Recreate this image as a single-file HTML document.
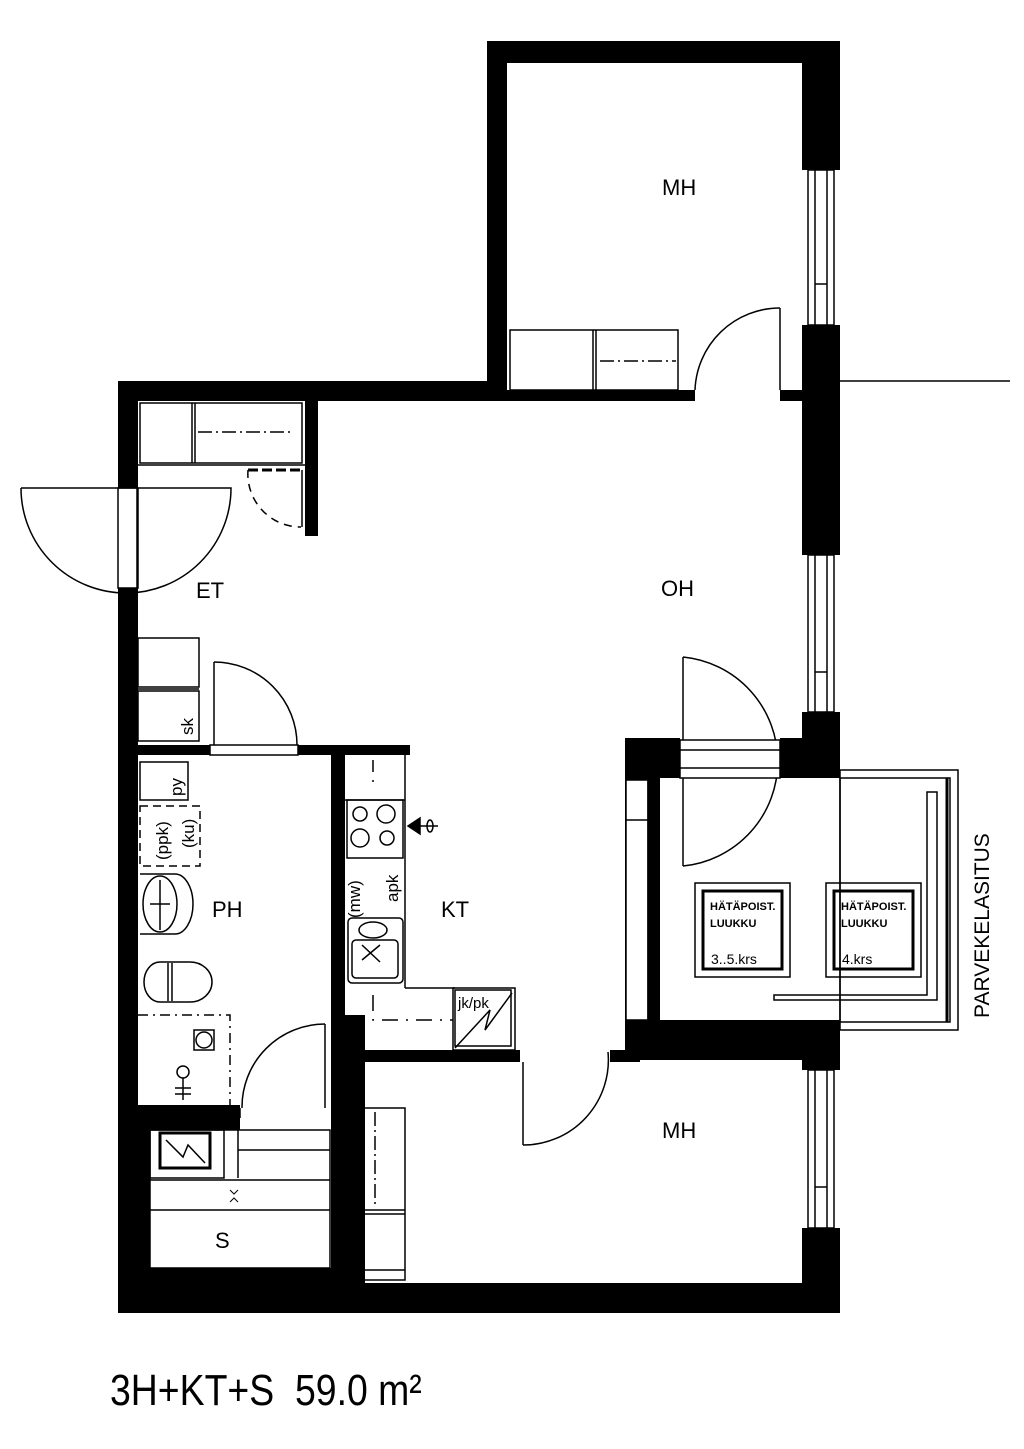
<!DOCTYPE html>
<html><head><meta charset="utf-8"><style>
html,body{margin:0;padding:0;background:#fff;}
svg{display:block}
text{font-family:"Liberation Sans",sans-serif;fill:#000}
</style></head><body>
<svg width="1024" height="1449" viewBox="0 0 1024 1449" xmlns="http://www.w3.org/2000/svg">
<rect width="1024" height="1449" fill="#fff"/>
<g fill="#000">
<rect x="118" y="381" width="20" height="107"/>
<rect x="118" y="588" width="20" height="725"/>
<rect x="118" y="381" width="389" height="20"/>
<rect x="487" y="41" width="20" height="360"/>
<rect x="487" y="41" width="353" height="22"/>
<rect x="802" y="41" width="38" height="129"/>
<rect x="802" y="325" width="38" height="230"/>
<rect x="802" y="712" width="38" height="66"/>
<rect x="802" y="1020" width="38" height="50"/>
<rect x="802" y="1228" width="38" height="85"/>
<rect x="118" y="1283" width="722" height="30"/>
<rect x="507" y="390" width="188" height="11"/>
<rect x="780" y="390" width="22" height="11"/>
<rect x="305" y="401" width="13" height="135"/>
<rect x="138" y="745" width="72" height="10"/>
<rect x="298" y="745" width="112" height="10"/>
<rect x="331" y="745" width="14" height="540"/>
<rect x="345" y="1015" width="20" height="270"/>
<rect x="138" y="1105" width="102" height="25"/>
<rect x="138" y="1105" width="12" height="180"/>
<rect x="138" y="1268" width="194" height="17"/>
<rect x="345" y="1050" width="175" height="12"/>
<rect x="625" y="738" width="55" height="40"/>
<rect x="780" y="738" width="60" height="40"/>
<rect x="625" y="738" width="35" height="312"/>
<rect x="625" y="1020" width="215" height="40"/>
<rect x="610" y="1050" width="30" height="12"/>
</g>
<g fill="none" stroke="#000" stroke-width="1.5">
<rect x="808" y="170" width="26" height="155"/><line x1="815" y1="170" x2="815" y2="325"/><line x1="827" y1="170" x2="827" y2="325"/><line x1="815" y1="284" x2="827" y2="284"/>
<rect x="808" y="555" width="26" height="157"/><line x1="815" y1="555" x2="815" y2="712"/><line x1="827" y1="555" x2="827" y2="712"/><line x1="815" y1="672" x2="827" y2="672"/>
<rect x="808" y="1070" width="26" height="158"/><line x1="815" y1="1070" x2="815" y2="1228"/><line x1="827" y1="1070" x2="827" y2="1228"/><line x1="815" y1="1187" x2="827" y2="1187"/>
<line x1="840" y1="381" x2="1010" y2="381"/>
<rect x="510" y="330" width="168" height="60"/><line x1="593" y1="330" x2="593" y2="390"/><line x1="596" y1="330" x2="596" y2="390"/>
<line x1="600" y1="361" x2="676" y2="361" stroke-dasharray="14 4 2 4"/>
<line x1="780" y1="308" x2="780" y2="390"/>
<path d="M695 390 A85 85 0 0 1 780 308"/>
<rect x="140" y="403" width="162" height="60"/><line x1="192" y1="403" x2="192" y2="463"/><line x1="195" y1="403" x2="195" y2="463"/>
<line x1="198" y1="432" x2="293" y2="432" stroke-dasharray="14 4 2 4"/>
<line x1="138" y1="465" x2="305" y2="465"/>
<path d="M248 470 A53 53 0 0 0 301 527" stroke-dasharray="8 6"/>
<line x1="248" y1="470" x2="302" y2="470" stroke-width="3" stroke-dasharray="10 4"/>
<line x1="302" y1="470" x2="302" y2="527"/>
<rect x="118" y="488" width="20" height="100"/>
<line x1="137" y1="488" x2="137" y2="588"/>
<path d="M21 488 L231 488 A105 105 0 0 1 21 488"/>
<rect x="138" y="638" width="61" height="49"/><rect x="138" y="691" width="61" height="50"/><line x1="138" y1="689" x2="199" y2="689"/>
<line x1="214" y1="662" x2="214" y2="745"/>
<path d="M214 662 A83 83 0 0 1 297 745"/>
<rect x="210" y="745" width="88" height="10"/>
<line x1="683" y1="657" x2="683" y2="866"/>
<path d="M683 657 A105 105 0 0 1 683 866"/>
<rect x="680" y="740" width="100" height="38" fill="#fff"/><line x1="680" y1="750" x2="780" y2="750"/><line x1="680" y1="768" x2="780" y2="768"/>
<rect x="626" y="780" width="22" height="240" fill="#fff"/><line x1="648" y1="780" x2="648" y2="1020"/><line x1="626" y1="820" x2="648" y2="820"/><line x1="658" y1="780" x2="658" y2="1020"/>
<rect x="840" y="770" width="118" height="260"/><rect x="840" y="778" width="110" height="244"/><line x1="947" y1="778" x2="947" y2="1022" stroke-width="3"/>
<path d="M774 1000 L937 1000 L937 792 L927 792 L927 995 L774 995 Z"/>
<rect x="695" y="883" width="95" height="94"/><rect x="703" y="891" width="79" height="78" stroke-width="3"/>
<rect x="826" y="883" width="95" height="94"/><rect x="834" y="891" width="79" height="78" stroke-width="3"/>
<rect x="140" y="762" width="48" height="38"/>
<rect x="140" y="806" width="60" height="60" stroke-dasharray="8 5"/>
<path d="M140 874 L175 874 A18 30 0 0 1 175 934 L140 934"/><ellipse cx="160" cy="904" rx="17" ry="28"/>
<line x1="150" y1="904" x2="170" y2="904"/><line x1="160" y1="880" x2="160" y2="930"/>
<path d="M160 962 L190 962 A22 20 0 0 1 190 1002 L160 1002 A16 20 0 0 1 160 962"/><line x1="168" y1="963" x2="168" y2="1001"/><line x1="172" y1="963" x2="172" y2="1001"/>
<polyline points="138,1015 230,1015 230,1105" stroke-dasharray="10 5 2 5"/>
<circle cx="204" cy="1040" r="8"/><rect x="194" y="1030" width="20" height="20"/>
<circle cx="183" cy="1072" r="6"/><line x1="183" y1="1078" x2="183" y2="1100"/><line x1="175" y1="1088" x2="191" y2="1088"/><line x1="175" y1="1094" x2="191" y2="1094"/>
<line x1="325" y1="1024" x2="325" y2="1108"/>
<path d="M242 1108 A83 83 0 0 1 325 1024"/>
<line x1="240" y1="1108" x2="240" y2="1118"/>
<rect x="150" y="1130" width="180" height="138"/>
<rect x="150" y="1130" width="74" height="48"/><rect x="160" y="1133" width="50" height="35" stroke-width="3"/>
<path d="M166 1140 L183 1157 L188 1145 L205 1163"/>
<line x1="238" y1="1150" x2="330" y2="1150"/><line x1="238" y1="1130" x2="238" y2="1178"/>
<line x1="150" y1="1180" x2="330" y2="1180"/><line x1="150" y1="1210" x2="330" y2="1210"/>
<path d="M230 1190 l4 4 l4 -4 M230 1202 l4 -4 l4 4" stroke-width="1"/>
<line x1="345" y1="800" x2="405" y2="800"/><line x1="405" y1="755" x2="405" y2="988"/>
<rect x="347" y="800" width="56" height="58"/>
<circle cx="360" cy="814" r="7"/><circle cx="386" cy="814" r="9"/><circle cx="360" cy="838" r="9"/><circle cx="387" cy="838" r="7"/>
<path d="M408 826 L420 818 L420 834 Z" fill="#000"/><line x1="420" y1="826" x2="438" y2="826"/><ellipse cx="430" cy="826" rx="3" ry="6"/>
<rect x="348" y="918" width="55" height="65" rx="4"/><rect x="352" y="940" width="46" height="38" rx="4"/><ellipse cx="373" cy="930" rx="14" ry="8"/>
<line x1="362" y1="945" x2="380" y2="962"/><line x1="362" y1="960" x2="380" y2="945"/>
<polyline points="405,988 455,988"/>
<rect x="453" y="988" width="62" height="62"/><rect x="455" y="990" width="56" height="56"/>
<path d="M455 1048 L490 1010 L485 1030 L512 993"/>
<polyline points="373,995 373,1020 453,1020" stroke-dasharray="16 8 2 8"/>
<line x1="373" y1="760" x2="373" y2="790" stroke-dasharray="12 8 2 8"/>
<line x1="523" y1="1062" x2="523" y2="1145"/>
<path d="M523 1145 A85 85 0 0 0 608 1052"/>
<rect x="345" y="1108" width="60" height="172"/><line x1="345" y1="1210" x2="405" y2="1210"/><line x1="345" y1="1214" x2="405" y2="1214"/>
<line x1="375" y1="1112" x2="375" y2="1206" stroke-dasharray="14 4 2 4"/>
<line x1="345" y1="1270" x2="405" y2="1270"/>
</g>
<g font-size="17">
<text x="193" y="735" transform="rotate(-90 193 735)">sk</text>
<text x="182" y="796" transform="rotate(-90 182 796)">py</text>
<text x="168" y="860" transform="rotate(-90 168 860)">(ppk)</text>
<text x="194" y="848" transform="rotate(-90 194 848)">(ku)</text>
<text x="360" y="918" transform="rotate(-90 360 918)">(mw)</text>
<text x="398" y="902" transform="rotate(-90 398 902)">apk</text>
<text x="458" y="1008" font-size="15">jk/pk</text>
</g>
<g font-size="22">
<text x="662" y="195">MH</text>
<text x="661" y="596">OH</text>
<text x="196" y="598">ET</text>
<text x="212" y="917">PH</text>
<text x="441" y="917">KT</text>
<text x="662" y="1138">MH</text>
<text x="215" y="1248">S</text>
</g>
<g font-size="11" font-weight="bold">
<text x="710" y="910">HÄTÄPOIST.</text><text x="710" y="927">LUUKKU</text>
<text x="841" y="910">HÄTÄPOIST.</text><text x="841" y="927">LUUKKU</text>
</g>
<text x="711" y="964" font-size="14">3..5.krs</text>
<text x="842" y="964" font-size="14">4.krs</text>
<text x="989" y="1018" font-size="21" transform="rotate(-90 989 1018)">PARVEKELASITUS</text>
<text x="110" y="1405" font-size="44" transform="translate(110 0) scale(0.85 1) translate(-110 0)">3H+KT+S&#160;&#160;59.0 m²</text>
</svg>
</body></html>
